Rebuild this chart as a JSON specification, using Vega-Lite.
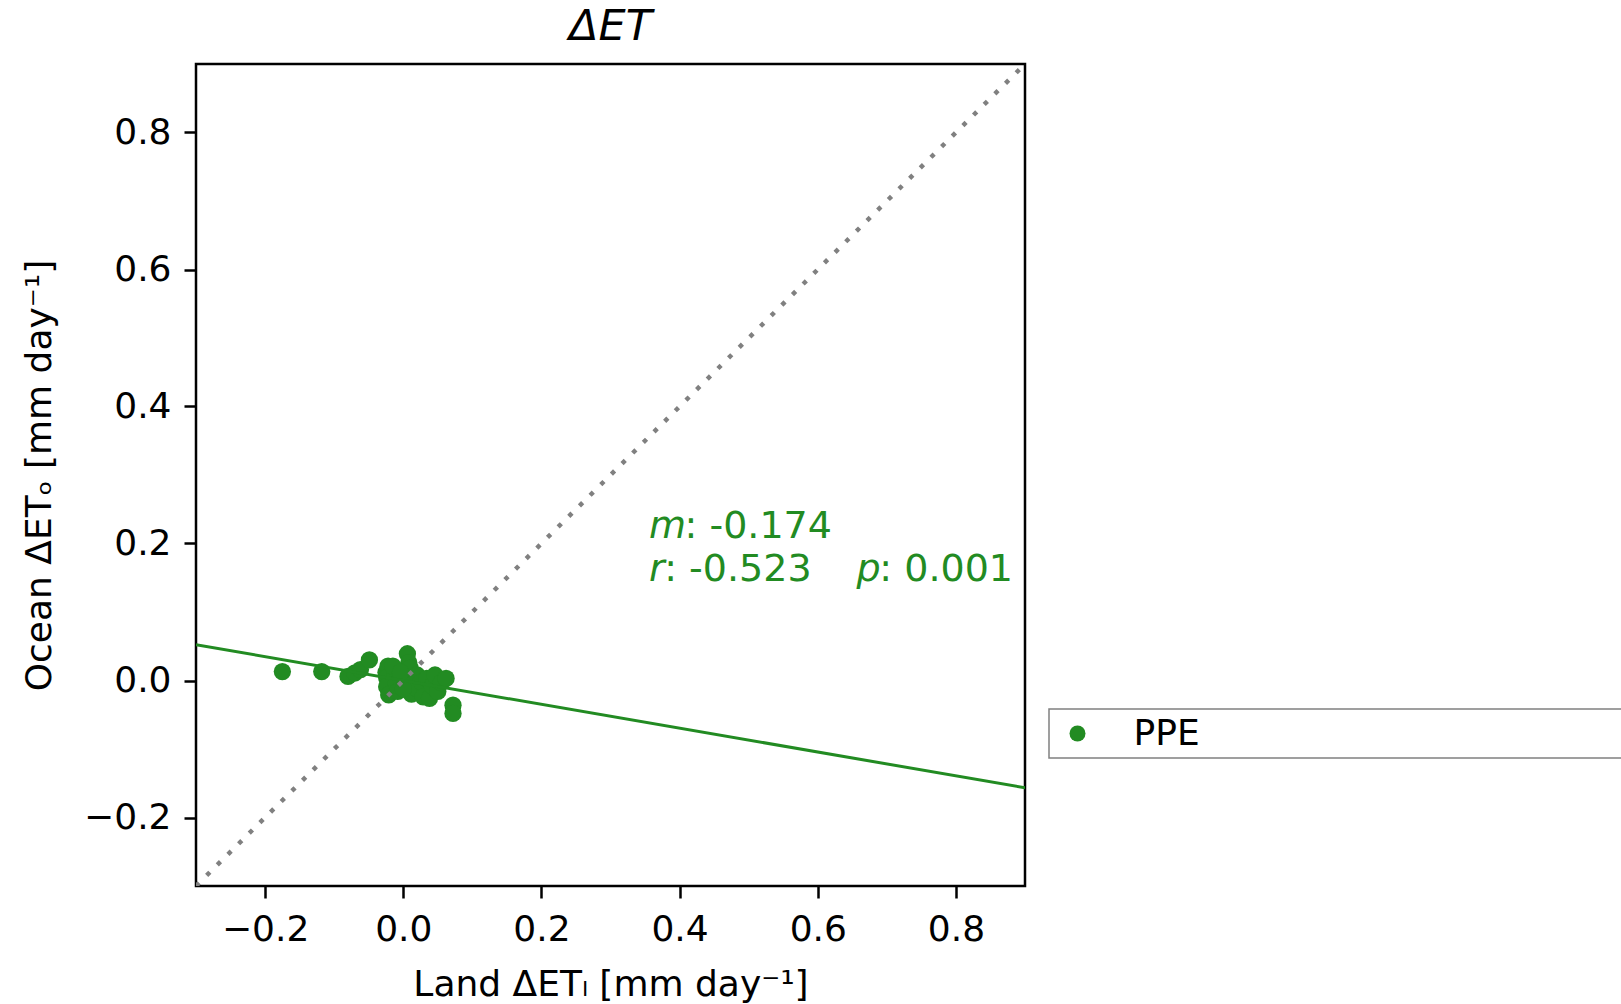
{
  "$schema": "https://vega.github.io/schema/vega-lite/v6.json",
  "autosize": {"type": "none"},
  "padding": {"left": 196, "top": 64, "right": 596, "bottom": 118},
  "width": 829,
  "height": 822,
  "background": "white",
  "title": {"text": "ΔET", "fontStyle": "italic", "font": "DejaVu Sans", "fontSize": 43, "fontWeight": "normal", "anchor": "middle", "offset": 15, "color": "black"},
  "datasets": {
    "ppe": [
      {"series": "PPE", "land": -0.175, "ocean": 0.013},
      {"series": "PPE", "land": -0.118, "ocean": 0.013},
      {"series": "PPE", "land": -0.080, "ocean": 0.006},
      {"series": "PPE", "land": -0.070, "ocean": 0.011},
      {"series": "PPE", "land": -0.062, "ocean": 0.016},
      {"series": "PPE", "land": -0.049, "ocean": 0.030},
      {"series": "PPE", "land": -0.025, "ocean": 0.012},
      {"series": "PPE", "land": -0.022, "ocean": 0.021},
      {"series": "PPE", "land": -0.024, "ocean": 0.004},
      {"series": "PPE", "land": -0.024, "ocean": -0.009},
      {"series": "PPE", "land": -0.021, "ocean": -0.021},
      {"series": "PPE", "land": -0.012, "ocean": 0.010},
      {"series": "PPE", "land": -0.010, "ocean": -0.005},
      {"series": "PPE", "land": -0.008, "ocean": -0.016},
      {"series": "PPE", "land": 0.002, "ocean": 0.003},
      {"series": "PPE", "land": 0.006, "ocean": 0.039},
      {"series": "PPE", "land": 0.008, "ocean": 0.026},
      {"series": "PPE", "land": 0.010, "ocean": 0.018},
      {"series": "PPE", "land": 0.012, "ocean": -0.006},
      {"series": "PPE", "land": 0.012, "ocean": -0.020},
      {"series": "PPE", "land": 0.019, "ocean": -0.011},
      {"series": "PPE", "land": 0.020, "ocean": 0.008},
      {"series": "PPE", "land": 0.026, "ocean": -0.002},
      {"series": "PPE", "land": 0.029, "ocean": -0.024},
      {"series": "PPE", "land": 0.034, "ocean": 0.003},
      {"series": "PPE", "land": 0.038, "ocean": -0.026},
      {"series": "PPE", "land": 0.042, "ocean": -0.008},
      {"series": "PPE", "land": 0.046, "ocean": 0.008},
      {"series": "PPE", "land": 0.050, "ocean": -0.016},
      {"series": "PPE", "land": 0.055, "ocean": -0.003},
      {"series": "PPE", "land": 0.062, "ocean": 0.003},
      {"series": "PPE", "land": 0.072, "ocean": -0.036},
      {"series": "PPE", "land": 0.072, "ocean": -0.048},
      {"series": "PPE", "land": -0.015, "ocean": 0.021},
      {"series": "PPE", "land": 0.000, "ocean": -0.012},
      {"series": "PPE", "land": -0.004, "ocean": 0.012}
    ],
    "fit": [{"land": -0.3, "ocean": 0.0522}, {"land": 0.9, "ocean": -0.1566}],
    "diag": [{"land": -0.3, "ocean": -0.3}, {"land": 0.9, "ocean": 0.9}]
  },
  "layer": [
    {
      "data": {"name": "ppe"},
      "mark": {"type": "circle", "size": 300, "opacity": 1},
      "encoding": {
        "x": {"field": "land", "type": "quantitative",
          "scale": {"domain": [-0.3, 0.9], "nice": false, "zero": false},
          "axis": {"title": "Land ΔETₗ [mm day⁻¹]", "values": [-0.2, 0, 0.2, 0.4, 0.6, 0.8], "format": ".1f", "labelPadding": 14, "titlePadding": 20}},
        "y": {"field": "ocean", "type": "quantitative",
          "scale": {"domain": [-0.3, 0.9], "nice": false, "zero": false},
          "axis": {"title": "Ocean ΔETₒ [mm day⁻¹]", "values": [-0.2, 0, 0.2, 0.4, 0.6, 0.8], "format": ".1f", "labelPadding": 13, "titlePadding": 25}},
        "color": {"field": "series", "type": "nominal",
          "scale": {"domain": ["PPE", "\u00a0"], "range": ["#228B22", "rgba(255,255,255,0)"]},
          "legend": {"orient": "none", "legendX": 853, "legendY": 645, "title": null,
            "direction": "horizontal", "columns": 2, "columnPadding": 420,
            "symbolType": "circle", "symbolSize": 256, "symbolStrokeWidth": 0,
            "labelFontSize": 36, "labelFont": "DejaVu Sans", "labelColor": "black",
            "strokeColor": "#808080", "fillColor": "white", "padding": 6.5, "cornerRadius": 0,
            "symbolOffset": 4, "labelOffset": 38, "labelLimit": 3000}}
      }
    },
    {
      "data": {"name": "fit"},
      "mark": {"type": "line", "color": "#228B22", "strokeWidth": 3, "clip": true},
      "encoding": {
        "x": {"field": "land", "type": "quantitative"},
        "y": {"field": "ocean", "type": "quantitative"}
      }
    },
    {
      "data": {"name": "diag"},
      "mark": {"type": "line", "color": "#808080", "strokeWidth": 4.5, "strokeDash": [4.5, 10.5], "strokeCap": "butt", "clip": true},
      "encoding": {
        "x": {"field": "land", "type": "quantitative"},
        "y": {"field": "ocean", "type": "quantitative"}
      }
    },
    {
      "data": {"values": [{"label": "m"}]},
      "mark": {"type": "text", "align": "left", "baseline": "alphabetic", "fontStyle": "italic", "font": "DejaVu Sans", "fontSize": 38, "color": "#228B22"},
      "encoding": {"x": {"datum": 0.3557, "type": "quantitative"}, "y": {"datum": 0.2086, "type": "quantitative"}, "text": {"field": "label", "type": "nominal"}}
    },
    {
      "data": {"values": [{"label": ": -0.174"}]},
      "mark": {"type": "text", "align": "left", "baseline": "alphabetic", "font": "DejaVu Sans", "fontSize": 38, "color": "#228B22"},
      "encoding": {"x": {"datum": 0.4072, "type": "quantitative"}, "y": {"datum": 0.2086, "type": "quantitative"}, "text": {"field": "label", "type": "nominal"}}
    },
    {
      "data": {"values": [{"label": "r"}]},
      "mark": {"type": "text", "align": "left", "baseline": "alphabetic", "fontStyle": "italic", "font": "DejaVu Sans", "fontSize": 38, "color": "#228B22"},
      "encoding": {"x": {"datum": 0.3557, "type": "quantitative"}, "y": {"datum": 0.1453, "type": "quantitative"}, "text": {"field": "label", "type": "nominal"}}
    },
    {
      "data": {"values": [{"label": ": -0.523"}]},
      "mark": {"type": "text", "align": "left", "baseline": "alphabetic", "font": "DejaVu Sans", "fontSize": 38, "color": "#228B22"},
      "encoding": {"x": {"datum": 0.3777, "type": "quantitative"}, "y": {"datum": 0.1453, "type": "quantitative"}, "text": {"field": "label", "type": "nominal"}}
    },
    {
      "data": {"values": [{"label": "p"}]},
      "mark": {"type": "text", "align": "left", "baseline": "alphabetic", "fontStyle": "italic", "font": "DejaVu Sans", "fontSize": 38, "color": "#228B22"},
      "encoding": {"x": {"datum": 0.656, "type": "quantitative"}, "y": {"datum": 0.1453, "type": "quantitative"}, "text": {"field": "label", "type": "nominal"}}
    },
    {
      "data": {"values": [{"label": ": 0.001"}]},
      "mark": {"type": "text", "align": "left", "baseline": "alphabetic", "font": "DejaVu Sans", "fontSize": 38, "color": "#228B22"},
      "encoding": {"x": {"datum": 0.6892, "type": "quantitative"}, "y": {"datum": 0.1453, "type": "quantitative"}, "text": {"field": "label", "type": "nominal"}}
    }
  ],
  "config": {
    "view": {"stroke": "black", "strokeWidth": 2.5},
    "axis": {"domain": false, "grid": false, "ticks": true, "tickColor": "black", "tickWidth": 2.5, "tickSize": 12,
      "labelFont": "DejaVu Sans", "labelFontSize": 36, "labelColor": "black", "labelFlush": false, "labelOverlap": false, "labelBound": false,
      "titleFont": "DejaVu Sans", "titleFontSize": 36, "titleFontWeight": "normal", "titleColor": "black"},
    "legend": {"strokeWidth": 1.5}
  }
}
